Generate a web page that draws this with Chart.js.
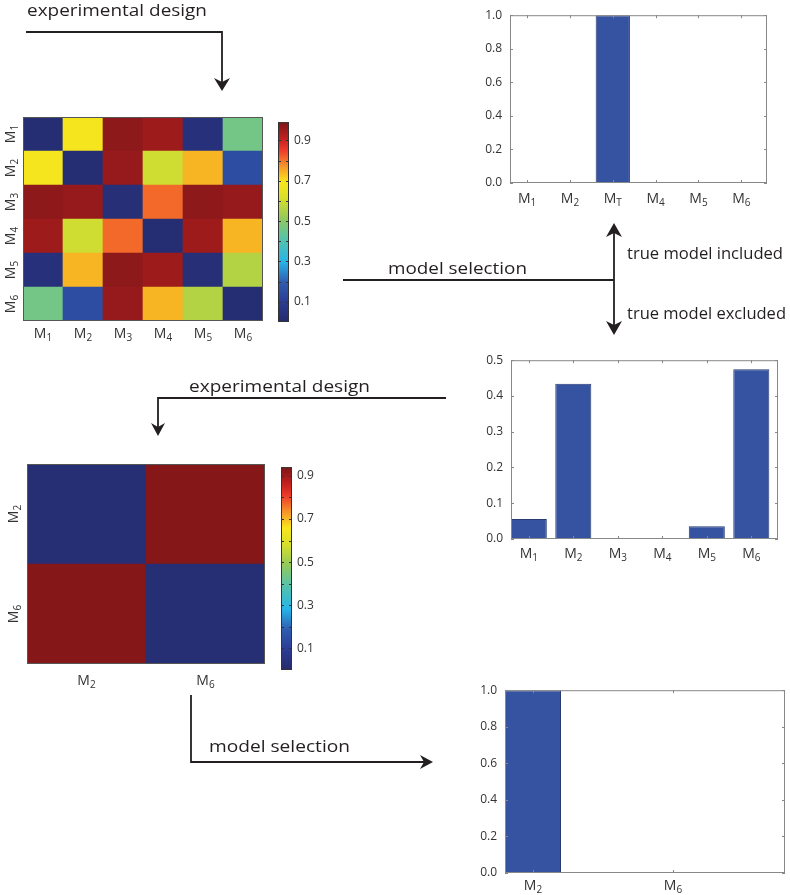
<!DOCTYPE html>
<html>
<head>
<meta charset="utf-8">
<title>Experimental design and model selection</title>
<script src="https://cdn.jsdelivr.net/npm/chart.js@4.4.1/dist/chart.umd.min.js"></script>
<style>
body {
	margin: 0;
	background: #fff;
}
#page {
	position: relative;
	width: 790px;
	height: 895px;
	overflow: hidden;
}
canvas, svg {
	position: absolute;
}
</style>
</head>
<body>
<div id="page">
	<canvas id="heat1"></canvas>
	<canvas id="cbar1"></canvas>
	<canvas id="heat2"></canvas>
	<canvas id="cbar2"></canvas>
	<canvas id="bars1"></canvas>
	<canvas id="bars2"></canvas>
	<canvas id="bars3"></canvas>
	<svg id="notes" width="790" height="895" style="left:0;top:0">
		<g fill="none" stroke="#231f20" stroke-width="1.8">
			<polyline points="26,32 222,32 222,83"/>
			<line x1="343" y1="280" x2="614" y2="280"/>
			<line x1="614" y1="231" x2="614" y2="327"/>
			<polyline points="446,398 158,398 158,428"/>
			<polyline points="191,695 191,762 426,762"/>
		</g>
		<g fill="#231f20">
			<path d="M222,91 L214,78 L222,82 L230,78 Z"/>
			<path d="M614,223 L606,237 L614,233 L622,237 Z"/>
			<path d="M614,335 L606,321 L614,325 L622,321 Z"/>
			<path d="M158,436 L151,423 L158,427 L165,423 Z"/>
			<path d="M433,762 L420,755 L424,762 L420,769 Z"/>
		</g>
		<g font-family="'Open Sans', sans-serif" font-size="17" fill="#231f20">
			<text x="27" y="16" textLength="180" lengthAdjust="spacingAndGlyphs">experimental design</text>
			<text x="388" y="274" textLength="139" lengthAdjust="spacingAndGlyphs">model selection</text>
			<text x="627" y="259" textLength="156" lengthAdjust="spacingAndGlyphs">true model included</text>
			<text x="627" y="319" textLength="159" lengthAdjust="spacingAndGlyphs">true model excluded</text>
			<text x="189" y="392" textLength="181" lengthAdjust="spacingAndGlyphs">experimental design</text>
			<text x="209" y="752" textLength="141" lengthAdjust="spacingAndGlyphs">model selection</text>
		</g>
	</svg>
</div>
<script>
	// first design matrix (rows/cols M1..M6)
	var heatLabels1 = ['M1', 'M2', 'M3', 'M4', 'M5', 'M6'];
	var heatValues1 = [
		[0.02, 0.68, 0.97, 0.95, 0.04, 0.46],
		[0.68, 0.02, 0.96, 0.60, 0.74, 0.15],
		[0.97, 0.96, 0.03, 0.81, 0.97, 0.96],
		[0.95, 0.60, 0.81, 0.02, 0.95, 0.74],
		[0.04, 0.74, 0.97, 0.95, 0.03, 0.56],
		[0.46, 0.15, 0.96, 0.74, 0.56, 0.02]
	];
	var heatMax1 = 0.99;

	// second design matrix (M2, M6)
	var heatLabels2 = ['M2', 'M6'];
	var heatValues2 = [
		[0.02, 0.93],
		[0.93, 0.02]
	];
	var heatMax2 = 0.94;

	var cbarTicks = [0.1, 0.3, 0.5, 0.7, 0.9];

	// model probabilities
	var barLabels1 = ['M1', 'M2', 'MT', 'M4', 'M5', 'M6'];
	var barValues1 = [0, 0, 1.0, 0, 0, 0];
	var barLabels2 = ['M1', 'M2', 'M3', 'M4', 'M5', 'M6'];
	var barValues2 = [0.056, 0.434, 0.001, 0.001, 0.036, 0.475];
	var barLabels3 = ['M2', 'M6'];
	var barValues3 = [1.0, 0.003];

	// jet-like colour map, as printed
	var cmapStops = [
		[0.00, '#252a6b'],
		[0.10, '#2b3c93'],
		[0.20, '#2f5db0'],
		[0.30, '#26b4e8'],
		[0.42, '#58c3a8'],
		[0.52, '#95c95a'],
		[0.62, '#d8df2a'],
		[0.70, '#f9e61c'],
		[0.78, '#f5942a'],
		[0.86, '#ee3a2a'],
		[0.92, '#c0201f'],
		[1.00, '#7c1618']
	];

	var FONT = '"Open Sans", "DejaVu Sans", sans-serif';
	var BAR_FILL = '#3653a2';
	var BAR_EDGE = '#27396f';

	function rgb(hex) {
		return [parseInt(hex.substr(1, 2), 16), parseInt(hex.substr(3, 2), 16), parseInt(hex.substr(5, 2), 16)];
	}

	function cmap(t) {
		t = Math.max(0, Math.min(1, t));
		for (var i = 1; i < cmapStops.length; i++) {
			if (t <= cmapStops[i][0]) {
				var a = cmapStops[i - 1], b = cmapStops[i];
				var f = (t - a[0]) / (b[0] - a[0]);
				var ca = rgb(a[1]), cb = rgb(b[1]);
				return 'rgb(' + ca.map(function(c, k) { return Math.round(c + (cb[k] - c) * f); }).join(',') + ')';
			}
		}
		return cmapStops[cmapStops.length - 1][1];
	}

	function place(id, left, top, w, h) {
		var el = document.getElementById(id);
		el.width = w;
		el.height = h;
		el.style.left = left + 'px';
		el.style.top = top + 'px';
		return el;
	}

	// "M" with a subscript, centred on x, y
	function subLabel(ctx, text, x, y, size) {
		var base = text.charAt(0), sub = text.slice(1);
		var subSize = Math.round(size * 0.72);
		ctx.font = size + 'px ' + FONT;
		var wb = ctx.measureText(base).width;
		ctx.font = subSize + 'px ' + FONT;
		var ws = ctx.measureText(sub).width;
		var x0 = x - (wb + ws) / 2;
		ctx.textAlign = 'left';
		ctx.textBaseline = 'alphabetic';
		ctx.font = size + 'px ' + FONT;
		ctx.fillText(base, x0, y + size * 0.36);
		ctx.font = subSize + 'px ' + FONT;
		ctx.fillText(sub, x0 + wb, y + size * 0.36 + size * 0.18);
	}

	function labelPlugin(labels, xValue, dy, dx) {
		return {
			id: 'mlabels',
			afterDraw: function(chart) {
				var ctx = chart.ctx, a = chart.chartArea;
				var xs = chart.scales.x, ys = chart.scales.y;
				var n = labels.length;
				ctx.save();
				ctx.fillStyle = '#333';
				labels.forEach(function(t, i) {
					subLabel(ctx, t, xs.getPixelForValue(xValue(i)), a.bottom + dy, 14);
				});
				if (dx) {
					labels.forEach(function(t, i) {
						ctx.save();
						ctx.translate(a.left - dx, ys.getPixelForValue(n - i - 0.5));
						ctx.rotate(-Math.PI / 2);
						subLabel(ctx, t, 0, 0, 14);
						ctx.restore();
					});
				}
				ctx.restore();
			}
		};
	}

	// box round the plot area with small inward ticks
	function framePlugin(color, xTicks, yTicks) {
		return {
			id: 'frame',
			afterDatasetsDraw: function(chart) {
				var ctx = chart.ctx, a = chart.chartArea;
				var xs = chart.scales.x, ys = chart.scales.y;
				var len = 3;
				ctx.save();
				ctx.strokeStyle = color;
				ctx.lineWidth = 1;
				ctx.beginPath();
				(xTicks || []).forEach(function(v) {
					var px = Math.round(xs.getPixelForValue(v)) + 0.5;
					ctx.moveTo(px, a.bottom); ctx.lineTo(px, a.bottom - len);
					ctx.moveTo(px, a.top); ctx.lineTo(px, a.top + len);
				});
				(yTicks || []).forEach(function(v) {
					var py = Math.round(ys.getPixelForValue(v)) + 0.5;
					ctx.moveTo(a.left, py); ctx.lineTo(a.left + len, py);
					ctx.moveTo(a.right, py); ctx.lineTo(a.right - len, py);
				});
				ctx.stroke();
				ctx.strokeRect(a.left + 0.5, a.top + 0.5, a.right - a.left - 1, a.bottom - a.top - 1);
				ctx.restore();
			}
		};
	}

	function gradientPlugin(cmax) {
		return {
			id: 'gradient',
			beforeDatasetsDraw: function(chart) {
				var ctx = chart.ctx, a = chart.chartArea, ys = chart.scales.y;
				var g = ctx.createLinearGradient(0, ys.getPixelForValue(0), 0, ys.getPixelForValue(cmax));
				cmapStops.forEach(function(s) { g.addColorStop(s[0], s[1]); });
				ctx.save();
				ctx.fillStyle = g;
				ctx.fillRect(a.left, a.top, a.right - a.left, a.bottom - a.top);
				ctx.restore();
			}
		};
	}

	var common = {
		responsive: false,
		animation: false,
		events: [],
		plugins: { legend: { display: false }, tooltip: { enabled: false } }
	};

	function heatmap(id, labels, values, cmax, box, pad, dy, dx) {
		var n = labels.length;
		var datasets = [];
		for (var k = 0; k < n; k++) {
			var row = values[n - 1 - k];   // stacked from the bottom row up
			datasets.push({
				data: row.map(function() { return 1; }),
				backgroundColor: row.map(function(v) { return cmap(v / cmax); }),
				borderWidth: 0,
				barPercentage: 1,
				categoryPercentage: 1
			});
		}
		new Chart(place(id, box[0], box[1], box[2], box[3]), {
			type: 'bar',
			data: { labels: labels, datasets: datasets },
			options: Object.assign({}, common, {
				layout: { padding: pad },
				scales: {
					x: { stacked: true, display: false },
					y: { stacked: true, display: false, min: 0, max: n }
				}
			}),
			plugins: [framePlugin('#555'), labelPlugin(labels, function(i) { return i; }, dy, dx)]
		});
	}

	function colorbar(id, cmax, box, pad) {
		var ticks = [];
		for (var v = 1; v <= Math.floor(cmax * 10); v++) ticks.push(v / 10);
		new Chart(place(id, box[0], box[1], box[2], box[3]), {
			type: 'bar',
			data: { labels: [''], datasets: [] },
			options: Object.assign({}, common, {
				layout: { padding: pad },
				scales: {
					x: { display: false },
					y: {
						position: 'right', min: 0, max: cmax,
						grid: { display: false, drawTicks: false },
						border: { display: false },
						afterBuildTicks: function(s) { s.ticks = cbarTicks.map(function(t) { return { value: t }; }); },
						afterFit: function(s) { s.width = 31; },
						ticks: { padding: 5, color: '#333', font: { family: FONT, size: 12 }, callback: function(t) { return t.toFixed(1); } }
					}
				}
			}),
			plugins: [gradientPlugin(cmax), framePlugin('#333', [], ticks)]
		});
	}

	function barChart(id, labels, values, ymax, step, xmin, xmax, barPct, box, pad, dy) {
		var yTicks = [];
		for (var t = 0; t <= ymax + 1e-9; t += step) yTicks.push(+t.toFixed(2));
		var xPos = values.map(function(v, i) { return i + 1; });
		new Chart(place(id, box[0], box[1], box[2], box[3]), {
			type: 'bar',
			data: {
				datasets: [{
					data: values.map(function(v, i) { return { x: xPos[i], y: v }; }),
					backgroundColor: BAR_FILL,
					borderColor: BAR_EDGE,
					borderWidth: 1,
					barPercentage: barPct,
					categoryPercentage: 1
				}]
			},
			options: Object.assign({}, common, {
				layout: { padding: pad },
				scales: {
					x: {
						type: 'linear', min: xmin, max: xmax, offset: false, display: false,
						// one tick per model so bar width follows the model spacing
						afterBuildTicks: function(s) { s.ticks = xPos.map(function(p) { return { value: p }; }); }
					},
					y: {
						min: 0, max: ymax,
						grid: { display: false, drawTicks: false },
						border: { display: false },
						afterFit: function(s) { s.width = 40; },
						ticks: { stepSize: step, padding: 8, color: '#333', font: { family: FONT, size: 12 }, callback: function(v) { return v.toFixed(1); } }
					}
				}
			}),
			plugins: [
				framePlugin('#888', xPos, yTicks),
				labelPlugin(labels, function(i) { return xPos[i]; }, dy)
			]
		});
	}

	heatmap('heat1', heatLabels1, heatValues1, heatMax1, [0, 110, 268, 240], { left: 23, top: 7, right: 5, bottom: 29 }, 12, 13);
	colorbar('cbar1', heatMax1, [270, 110, 50, 240], { left: 8, top: 8, right: 0, bottom: 28 });
	heatmap('heat2', heatLabels2, heatValues2, heatMax2, [0, 455, 270, 235], { left: 27, top: 9, right: 5, bottom: 26 }, 16, 14);
	colorbar('cbar2', heatMax2, [273, 455, 50, 235], { left: 8, top: 9, right: 0, bottom: 20 });

	barChart('bars1', barLabels1, barValues1, 1.0, 0.2, 0.6, 6.6, 0.8, [470, 0, 300, 210], { left: 0, top: 8, right: 3, bottom: 27 }, 15);
	barChart('bars2', barLabels2, barValues2, 0.5, 0.1, 0.6, 6.6, 0.81, [471, 345, 311, 225], { left: 0, top: 12, right: 4, bottom: 31 }, 14);
	barChart('bars3', barLabels3, barValues3, 1.0, 0.2, 0.8, 2.8, 0.4, [465, 675, 325, 220], { left: 0, top: 10, right: 5, bottom: 22 }, 12);
</script>
</body>
</html>
